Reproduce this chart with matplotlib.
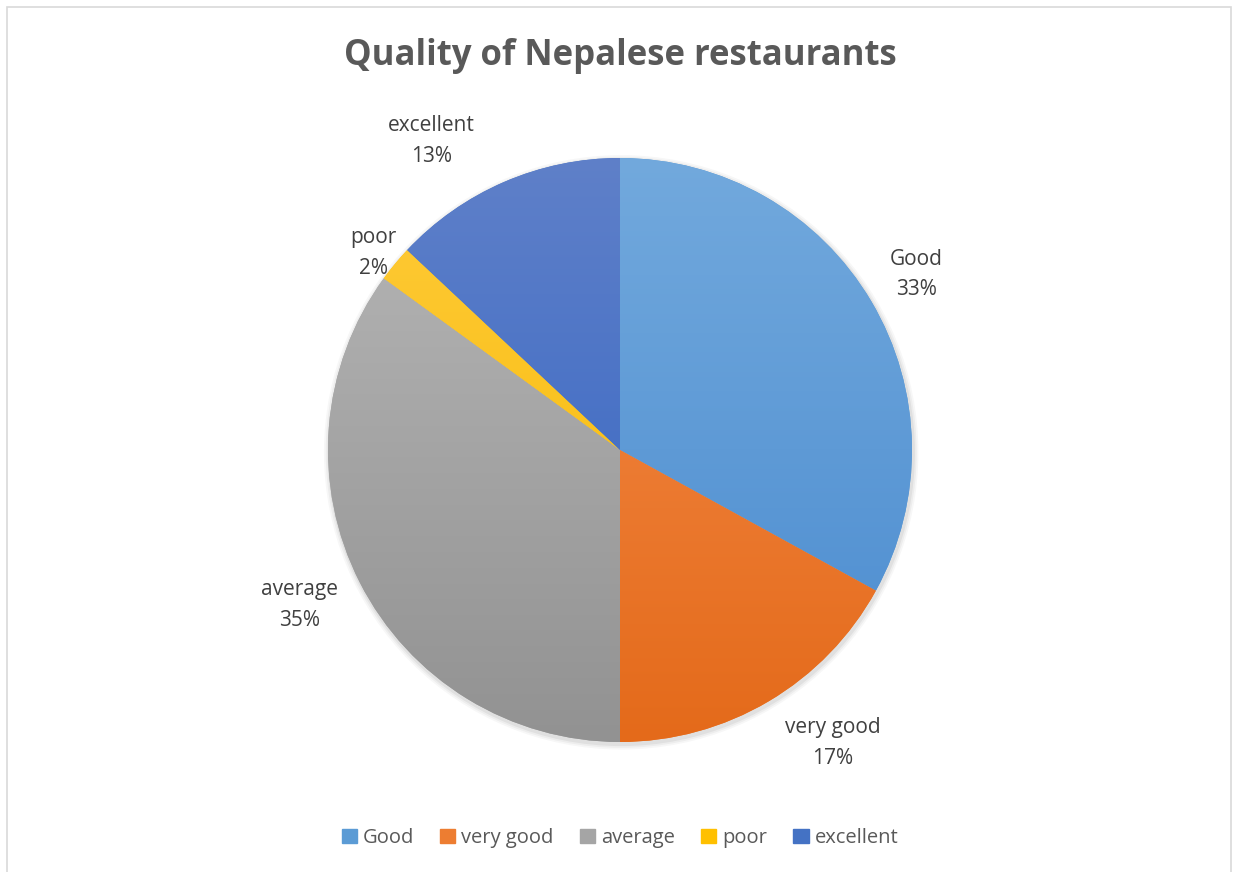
import matplotlib.pyplot as plt
import numpy as np
from matplotlib.colors import LinearSegmentedColormap
from matplotlib.patches import Rectangle, Circle

plt.rcParams['font.family'] = ['Open Sans', 'DejaVu Sans']

# data
categories = ['Good', 'very good', 'average', 'poor', 'excellent']
shares = [33, 17, 35, 2, 13]
# gradient colours (top, bottom) per slice
top_colors = ['#72A9DD', '#F58D4C', '#B7B7B7', '#FFCB3A', '#5F80C9']
bottom_colors = ['#4A8BCF', '#E46A1A', '#929292', '#F5B800', '#3062C2']
flat_colors = ['#5B9BD5', '#ED7D31', '#A5A5A5', '#FFC000', '#4472C4']
# label placement (distance in radii, angle shift in degrees)
label_dist = [1.18, 1.24, 1.22, 1.08, 1.24]
label_shift = [0, 5.4, -1.2, 1.0, 8.0]

W, H = 1234, 872
fig = plt.figure(figsize=(W / 100, H / 100), dpi=100)

# chart border
fig.patches.append(Rectangle((7 / W, -0.01), 1224 / W, 1 - 7 / H + 0.01,
                             transform=fig.transFigure, fill=False,
                             edgecolor='#D9D9D9', linewidth=1.2))

cx, cy, R = 620, 872 - 450, 292
half = 320
ax = fig.add_axes([(cx - half) / W, (cy - half) / H, 2 * half / W, 2 * half / H])
lim = half / R
ax.set_aspect('equal')
ax.axis('off')

# soft shadow
for i, a in enumerate([0.05, 0.04, 0.03]):
    ax.add_patch(Circle((0.004, -0.008), 1 + 0.006 * (i + 1), color='black',
                        alpha=a, linewidth=0, zorder=0))

wedges, _ = ax.pie(shares, startangle=90, counterclock=False, radius=1,
                   colors=flat_colors, wedgeprops=dict(linewidth=0))

grad = np.linspace(0, 1, 256).reshape(-1, 1)
for w, c1, c2 in zip(wedges, top_colors, bottom_colors):
    cmap = LinearSegmentedColormap.from_list('g', [c1, c2])
    im = ax.imshow(grad, cmap=cmap, extent=(-1, 1, -1, 1), origin='upper',
                   aspect='auto', zorder=2)
    im.set_clip_path(w)
ax.set_xlim(-lim, lim)
ax.set_ylim(-lim, lim)

for w, name, pct, d, s in zip(wedges, categories, shares, label_dist, label_shift):
    ang = np.deg2rad((w.theta1 + w.theta2) / 2 + s)
    ax.text(d * np.cos(ang), d * np.sin(ang), f'{name}\n{pct}%',
            ha='center', va='center', fontsize=15, color='#404040',
            linespacing=1.6)

fig.text(cx / W, 1 - 56 / H, 'Quality of Nepalese restaurants',
         ha='center', va='center', fontsize=25, fontweight='bold',
         color='#595959')

handles = [Rectangle((0, 0), 1, 1, color=c) for c in flat_colors]
fig.legend(handles, categories, loc='center', bbox_to_anchor=(cx / W, 1 - 838 / H),
           ncol=5, frameon=False, fontsize=14.5, handlelength=0.75,
           handleheight=0.75, handletextpad=0.3, columnspacing=1.3,
           labelcolor='#595959')

fig.savefig('out.png', dpi=100)
